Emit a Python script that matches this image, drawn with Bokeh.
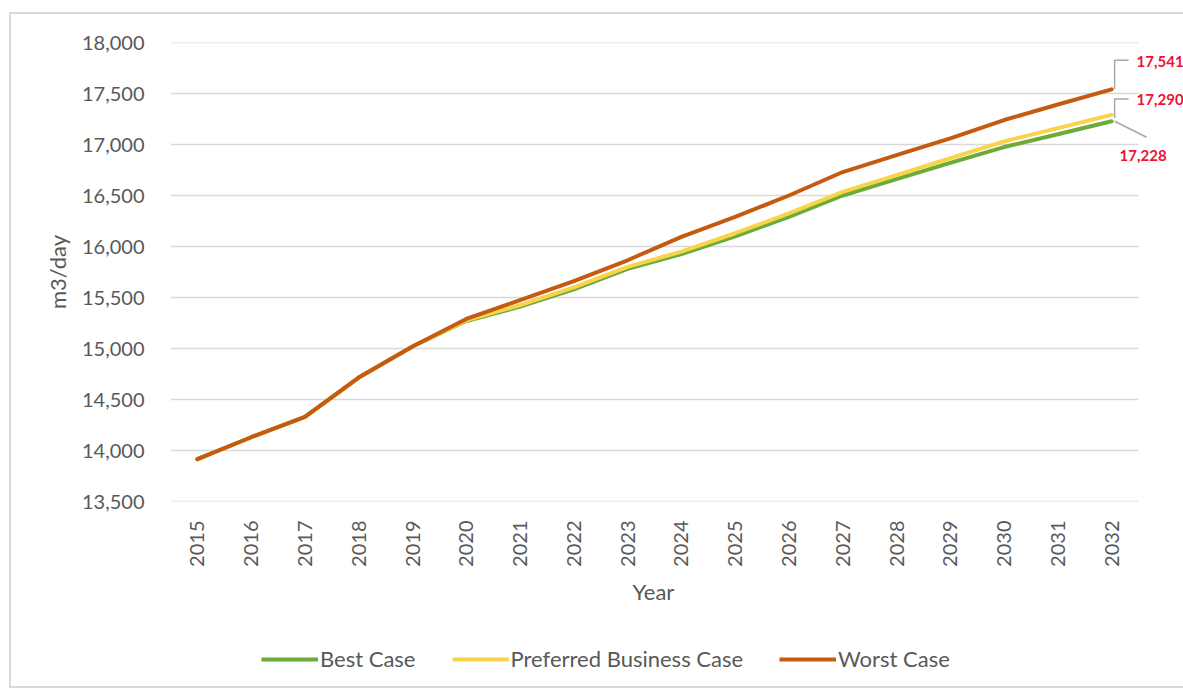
from bokeh.plotting import figure
from bokeh.layouts import column
from bokeh.models import (FixedTicker, NumeralTickFormatter, Legend, LegendItem,
                          Label, Title, ColumnDataSource)
from bokeh.embed import file_html
from bokeh.resources import INLINE
import math

# Daily demand projections (m3/day) per scenario
years = list(range(2015, 2033))
year_labels = [str(y) for y in years]
best_case = [13915, 14130, 14330, 14715, 15020, 15270, 15410, 15580, 15780, 15925,
             16100, 16290, 16500, 16660, 16820, 16975, 17100, 17228]
preferred_case = [13915, 14130, 14330, 14715, 15020, 15275, 15425, 15600, 15800, 15950,
                  16130, 16325, 16535, 16700, 16865, 17030, 17160, 17290]
worst_case = [13915, 14130, 14330, 14715, 15020, 15290, 15475, 15660, 15865, 16095,
              16290, 16500, 16730, 16895, 17060, 17240, 17392, 17541]
y_ticks = list(range(13500, 18001, 500))

series_names = ["Best Case", "Preferred Business Case", "Worst Case"]
series_colors = ["#6AAB3A", "#F9D44A", "#C55A11"]

FONT = "Lato"
GREY_TEXT = "#595959"
GRID = "#D9D9D9"

# page geometry: chart box offset from the page corner, with a light border
OX, OY, BW = 9, 12, 2
W = 1183 - OX - BW
H_MAIN, H_LEG = 596, 76
FL, FT, FB = 170 - OX - BW, 42 - OY - BW, 501 - OY - BW   # plot frame on the canvas
FR = W
GRID_RIGHT = 1138 - OX - BW                              # end of the category span
x0, x1 = years[0] - 0.5, years[-1] + 0.5
px_per_year = (GRID_RIGHT - FL) / (x1 - x0)
x_end = x1 + (FR - GRID_RIGHT) / px_per_year

p = figure(width=W, height=H_MAIN, output_backend="svg", toolbar_location=None,
           x_range=(x0, x_end), y_range=(y_ticks[0], y_ticks[-1]),
           min_border_left=FL, min_border_right=W - FR,
           min_border_top=FT, min_border_bottom=H_MAIN - FB)
p.background_fill_color = "white"
p.border_fill_color = "white"
p.outline_line_color = None
p.grid.visible = False

# horizontal gridlines across the category span
p.segment(x0=[x0] * len(y_ticks), x1=[x1] * len(y_ticks), y0=y_ticks, y1=y_ticks,
          line_color=GRID, line_width=1.3)

# axes
p.xaxis.ticker = FixedTicker(ticks=years)
p.xaxis.major_label_overrides = {y: s for y, s in zip(years, year_labels)}
p.xaxis.major_label_orientation = math.pi / 2
p.yaxis.ticker = FixedTicker(ticks=y_ticks)
p.yaxis.formatter = NumeralTickFormatter(format="0,0")
for ax in (p.xaxis[0], p.yaxis[0]):
    ax.axis_line_color = None
    ax.major_tick_line_color = None
    ax.minor_tick_line_color = None
    ax.major_label_text_font = FONT
    ax.major_label_text_font_size = "20px"
    ax.major_label_text_color = GREY_TEXT
    ax.axis_label_text_font = FONT
    ax.axis_label_text_font_size = "22px"
    ax.axis_label_text_font_style = "normal"
    ax.axis_label_text_color = GREY_TEXT
p.yaxis.axis_label = "m3/day"
p.xaxis.major_label_standoff = 13
p.yaxis.major_label_standoff = 20
p.yaxis.axis_label_standoff = 8

# x-axis title, centred under the category span rather than the whole frame
p.add_layout(Title(text="Year", align="left", offset=632 - 170, standoff=12,
                   text_font=FONT, text_font_size="22px", text_font_style="normal",
                   text_color=GREY_TEXT), "below")

# scenario lines
sources = []
for name, vals, col in zip(series_names, [best_case, preferred_case, worst_case], series_colors):
    src = ColumnDataSource(dict(x=years, y=vals))
    sources.append(src)
    p.line("x", "y", source=src, line_color=col, line_width=4,
           line_join="round", line_cap="round")

# end-of-line value labels with leader lines
px_per_unit = (FB - FT) / (y_ticks[-1] - y_ticks[0])
dx = lambda px: px / px_per_year
dy = lambda px: px / px_per_unit
LEADER = "#A6A6A6"
xe = years[-1]
wv, pv, bv = worst_case[-1], preferred_case[-1], best_case[-1]
p.line([xe + dx(3), xe + dx(3), xe + dx(17)], [wv, wv + dy(29), wv + dy(29)],
       line_color=LEADER, line_width=1.5)
p.line([xe + dx(3), xe + dx(3), xe + dx(17)], [pv - dy(3), pv + dy(16), pv + dy(16)],
       line_color=LEADER, line_width=1.5)
p.line([xe + dx(3), xe + dx(35)], [bv, bv - dy(16)],
       line_color=LEADER, line_width=1.5)

RED = "#EE1133"
for v, xo, yo in [(wv, 25, 28), (pv, 25, 15), (bv, 8, -34)]:
    p.add_layout(Label(x=xe, y=v, x_offset=xo, y_offset=yo,
                       text=f"{v:,}", text_font=FONT, text_font_size="15px",
                       text_font_style="bold", text_color=RED,
                       text_baseline="middle", text_align="left"))

# legend strip under the chart (its frame lines up with the chart frame)
lf = figure(width=W, height=H_LEG, output_backend="svg", toolbar_location=None,
            x_range=(0, 1), y_range=(0, 1), min_border=0)
lf.axis.visible = False
lf.grid.visible = False
lf.outline_line_color = None
lf.background_fill_color = "white"
lf.border_fill_color = "white"
leg_renderers = [lf.line("x", "y", source=s, line_color=c, line_width=4)
                 for s, c in zip(sources, series_colors)]
legend = Legend(items=[LegendItem(label=n, renderers=[r]) for n, r in zip(series_names, leg_renderers)],
                orientation="horizontal", location=(261 - 170, 14),
                glyph_width=57, glyph_height=20, label_standoff=2, spacing=36,
                padding=0, margin=0, border_line_color=None, background_fill_alpha=0,
                label_text_font=FONT, label_text_font_size="22px",
                label_text_color=GREY_TEXT)
lf.add_layout(legend, "center")

border = f"{BW}px solid {GRID}"
layout = column(p, lf, spacing=0,
                styles={"margin-left": f"{OX}px", "margin-top": f"{OY}px",
                        "border-left": border, "border-top": border,
                        "border-bottom": border})

open("out.html", "w").write(file_html(layout, INLINE))
